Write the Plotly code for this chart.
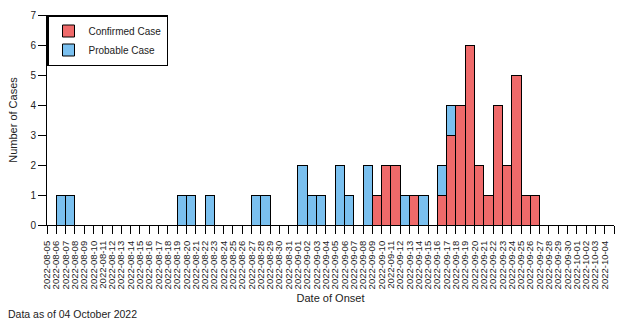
import datetime as dt
import plotly.graph_objects as go

# Dates of onset (2022-08-05 .. 2022-10-04)
start = dt.date(2022, 8, 5)
dates = [(start + dt.timedelta(days=i)).isoformat() for i in range(61)]

confirmed = [0,0,0,0,0,0,0,0,0,0, 0,0,0,0,0,0,0,0,0,0,
             0,0,0,0,0,0,0,0,0,0, 0,0,0,0,0,1,2,2,0,1,
             0,0,1,3,4,6,2,1,4,2, 5,1,1,0,0,0,0,0,0,0, 0]
probable = [0,1,1,0,0,0,0,0,0,0, 0,0,0,0,1,1,0,1,0,0,
            0,0,1,1,0,0,0,2,1,1, 0,2,1,0,2,0,0,0,1,0,
            1,0,1,1,0,0,0,0,0,0, 0,0,0,0,0,0,0,0,0,0, 0]

tick_vals = dates + ["2022-10-05"]
tick_text = dates + [""]
y_ticks = [0, 1, 2, 3, 4, 5, 6, 7]

DAY_MS = 86400000
FONT = "Liberation Sans, Arial, sans-serif"

fig = go.Figure()
fig.add_trace(go.Bar(x=dates, y=confirmed, name="Confirmed Case",
                     offset=0, width=DAY_MS,
                     marker=dict(color="#EF6A6A", line=dict(color="black", width=1))))
fig.add_trace(go.Bar(x=dates, y=probable, name="Probable Case",
                     offset=0, width=DAY_MS,
                     marker=dict(color="#7AC0EF", line=dict(color="black", width=1))))

fig.update_layout(
    barmode="stack",
    width=624, height=324,
    margin=dict(l=47, r=10, t=15, b=99),
    plot_bgcolor="white", paper_bgcolor="white",
    font=dict(family=FONT, size=10, color="#222"),
    legend=dict(x=0, y=1, xanchor="left", yanchor="top",
                bordercolor="black", borderwidth=1.5, bgcolor="white",
                font=dict(size=10), traceorder="normal",
                itemwidth=30, tracegroupgap=0),
    xaxis=dict(type="date", range=["2022-08-05", "2022-10-05"],
               tickmode="array", tickvals=tick_vals, ticktext=tick_text,
               tickangle=-90, tickfont=dict(size=9.5), ticklabelstandoff=3,
               ticks="outside", ticklen=8, tickcolor="black",
               showline=True, linecolor="black", linewidth=1,
               showgrid=False, zeroline=False,
               title=dict(text="Date of Onset", font=dict(size=11), standoff=5)),
    yaxis=dict(range=[0, 7], tickvals=y_ticks,
               ticks="outside", ticklen=8, tickcolor="black",
               tickfont=dict(size=10),
               showline=True, linecolor="black", linewidth=1,
               showgrid=False, zeroline=False,
               title=dict(text="Number of Cases", font=dict(size=11), standoff=10)),
    annotations=[dict(text="Data as of 04 October 2022", xref="paper", yref="paper",
                      x=-0.073, y=-0.425, xanchor="left", yanchor="middle",
                      showarrow=False, font=dict(size=10.5))],
)

fig.write_html("out.html")
